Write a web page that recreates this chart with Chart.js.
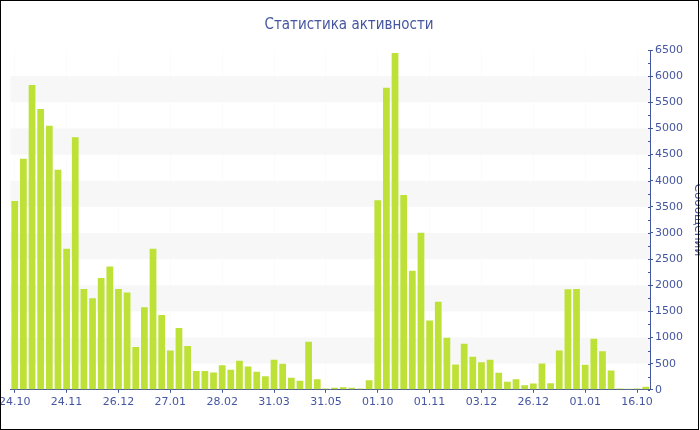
<!DOCTYPE html>
<html>
<head>
<meta charset="utf-8">
<script src="https://cdn.jsdelivr.net/npm/chart.js@4/dist/chart.umd.min.js"></script>
<style>
  html, body { margin: 0; padding: 0; background: #fff; overflow: hidden; }
  #wrap { position: relative; width: 700px; height: 430px; overflow: hidden; }
  #c { position: absolute; left: -4px; top: 0; }
  #frame { position: absolute; left: 0; top: 0; width: 699px; height: 430px; box-sizing: border-box; border: 1px solid #000; pointer-events: none; }
</style>
</head>
<body>
<div id="wrap">
  <canvas id="c" width="706" height="430" style="width:706px;height:430px"></canvas>
  <div id="frame"></div>
</div>
<script>
const chartTitle = 'Статистика активности';
const axisTitle = 'Сообщений';
const tickLabels = ['24.10','24.11','26.12','27.01','28.02','31.03','31.05','01.10','01.11','03.12','26.12','01.01','16.10'];
const tickEvery = 6;
const messages = [
  3610, 4420, 5830, 5370, 5050, 4210, 2700, 4830, 1930, 1750,
  2140, 2360, 1930, 1860, 820, 1580, 2700, 1430, 750, 1180,
  840, 360, 360, 330, 470, 385, 554, 446, 344, 261,
  574, 497, 229, 172, 918, 204, 25, 38, 51, 38,
  25, 185, 3627, 5780, 6443, 3728, 2275, 3002, 1325, 1683,
  994, 484, 880, 631, 529, 574, 325, 153, 204, 89,
  121, 503, 127, 752, 1925, 1930, 478, 975, 739, 370,
  25, 19, 25, 57
];
const yMax = 6500;
const yStep = 500;
const bandRanges = [[500,1000],[1500,2000],[2500,3000],[3500,4000],[4500,5000],[5500,6000]];

const categories = messages.map((_, i) => (i % tickEvery === 0 ? (tickLabels[i / tickEvery] || '') : ''));

const AXIS = '#4556a0';
const TEXT = '#4556a0';
const BAR = '#bde137';

const decor = {
  id: 'decor',
  beforeDatasetsDraw(chart) {
    const {ctx, chartArea: a, scales: {y}} = chart;
    ctx.save();
    ctx.fillStyle = '#f7f7f7';
    bandRanges.forEach(([lo, hi]) => {
      const t = y.getPixelForValue(hi), b = y.getPixelForValue(lo);
      ctx.fillRect(a.left, t, a.right - a.left, b - t);
    });
    ctx.restore();
  },
  afterDraw(chart) {
    const {ctx, chartArea: a, scales: {y}} = chart;
    ctx.save();
    ctx.strokeStyle = AXIS;
    ctx.lineWidth = 1;
    for (let v = 0; v <= yMax; v += yStep / 2) {
      const py = Math.round(y.getPixelForValue(v)) + 0.5;
      ctx.beginPath();
      ctx.moveTo(a.right - 2, py);
      ctx.lineTo(a.right, py);
      ctx.stroke();
    }
    ctx.restore();
  }
};

new Chart(document.getElementById('c'), {
  type: 'bar',
  data: {
    labels: categories,
    datasets: [{
      data: messages,
      backgroundColor: BAR,
      borderWidth: 0,
      categoryPercentage: 1,
      barPercentage: 0.78
    }]
  },
  options: {
    responsive: false,
    animation: false,
    devicePixelRatio: 1,
    layout: { padding: { left: 0, right: 0, top: 0, bottom: 18 } },
    plugins: {
      legend: { display: false },
      tooltip: { enabled: false },
      title: {
        display: true,
        text: chartTitle,
        color: TEXT,
        font: { family: 'DejaVu Sans Condensed, DejaVu Sans', size: 15, weight: 'normal' },
        padding: { top: 16, bottom: 16 }
      }
    },
    scales: {
      x: {
        offset: true,
        grid: {
          offset: false,
          drawOnChartArea: true,
          color: ctx => (ctx.index % tickEvery === 0 ? 'rgba(0,0,0,0.015)' : 'rgba(0,0,0,0)'),
          tickColor: ctx => (ctx.index % tickEvery === 0 ? AXIS : 'rgba(0,0,0,0)'),
          tickLength: 3
        },
        border: { display: true, color: AXIS, width: 1 },
        ticks: {
          autoSkip: false,
          maxRotation: 0,
          minRotation: 0,
          padding: 3,
          color: TEXT,
          font: { family: 'DejaVu Sans', size: 11 }
        }
      },
      y: {
        position: 'right',
        min: 0,
        max: yMax,
        afterFit: s => { s.width = 52; },
        grid: { drawOnChartArea: false, drawTicks: true, tickLength: 3, tickColor: AXIS },
        border: { display: true, color: AXIS, width: 1 },
        ticks: {
          stepSize: yStep,
          padding: 2,
          color: TEXT,
          font: { family: 'DejaVu Sans', size: 11 },
          callback: v => String(v)
        },
        title: {
          display: true,
          text: axisTitle,
          color: TEXT,
          font: { family: 'DejaVu Sans', size: 12 },
          padding: { top: -3, bottom: 0 }
        }
      }
    }
  },
  plugins: [decor]
});
</script>
</body>
</html>
